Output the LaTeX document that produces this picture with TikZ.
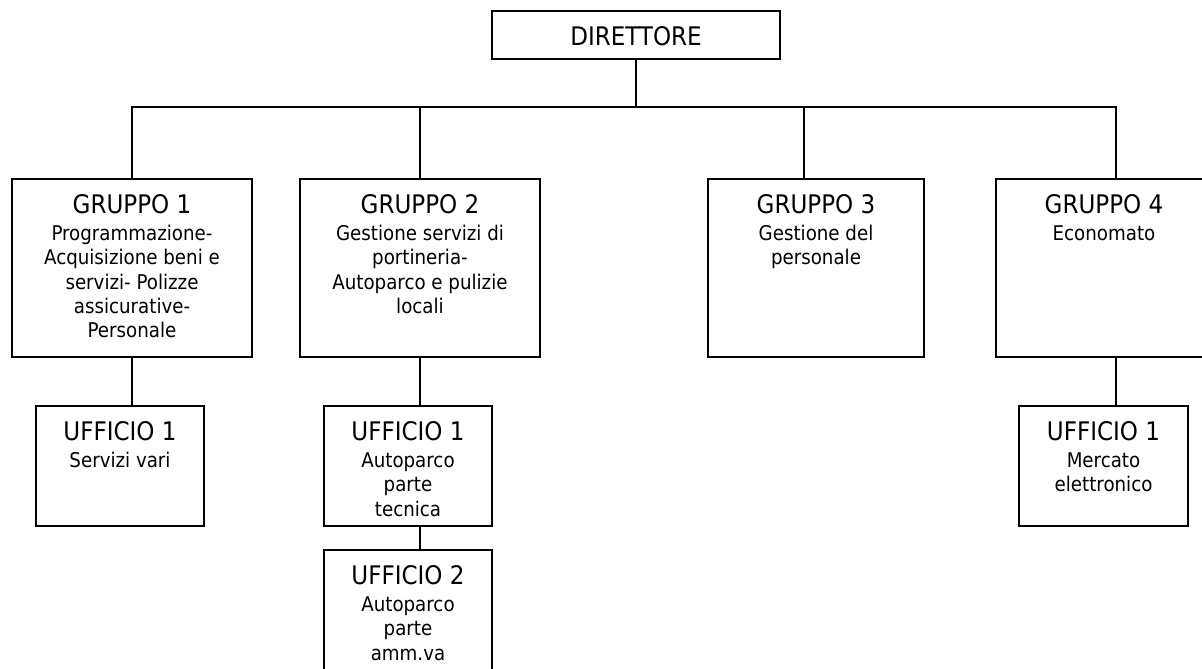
\documentclass[tikz,border=0pt]{standalone}
\usepackage{fontspec}
\setmainfont{DejaVu Sans Condensed}
\usetikzlibrary{calc}
\newcommand\boxtitle[1]{{\fontsize{19.2}{18.4}\selectfont #1}}
\begin{document}
\begin{tikzpicture}[x=0.75pt,y=-0.75pt,
  unitbox/.style={draw, line width=1.2pt, rectangle, inner sep=0pt, outer sep=0pt},
  groupbox/.style={unitbox, minimum width=180pt, minimum height=133.5pt},
  narrowbox/.style={unitbox, minimum width=162pt, minimum height=133.5pt},
  officebox/.style={unitbox, minimum width=126pt, minimum height=90pt},
  caption/.style={anchor=north, inner sep=0pt, align=center, font=\fontsize{15.2}{18.3}\selectfont},
  link/.style={line width=1.2pt}]
\useasboundingbox (0,0) rectangle (1202,668);
\clip (0,0) rectangle (1202,668);

% top of the chart
\node[unitbox, minimum width=216pt, minimum height=36pt] (dir) at (636,35) {};
\node[caption] (tdir) at ($(dir.north)+(0,15)$) {\boxtitle{DIRETTORE}};

% groups
\node[groupbox]  (g1) at (132,268) {};
\node[groupbox]  (g2) at (420,268) {};
\node[narrowbox] (g3) at (816,268) {};
\node[narrowbox] (g4) at (1104,268) {};

\node[caption] (tg1) at ($(g1.north)+(0,15)$)
  {\boxtitle{GRUPPO 1}\\[1.9pt]Programmazione-\\Acquisizione beni e\\servizi- Polizze\\assicurative-\\Personale};
\node[caption] (tg2) at ($(g2.north)+(0,15)$)
  {\boxtitle{GRUPPO 2}\\[1.9pt]Gestione servizi di\\portineria-\\Autoparco e pulizie\\locali};
\node[caption] (tg3) at ($(g3.north)+(0,15)$)
  {\boxtitle{GRUPPO 3}\\[1.9pt]Gestione del\\personale};
\node[caption] (tg4) at ($(g4.north)+(0,15)$)
  {\boxtitle{GRUPPO 4}\\[1.9pt]Economato};

% offices
\node[officebox] (u11) at (120,466) {};
\node[officebox] (u21) at (408,466) {};
\node[officebox] (u22) at (408,610) {};
\node[officebox, minimum width=126.75pt] (u41) at (1103.5,466) {};

\node[caption] (tu11) at ($(u11.north)+(0,15)$) {\boxtitle{UFFICIO 1}\\[1.9pt]Servizi vari};
\node[caption] (tu21) at ($(u21.north)+(0,15)$) {\boxtitle{UFFICIO 1}\\[1.9pt]Autoparco\\parte\\tecnica};
\node[caption] (tu22) at ($(u22.north)+(0,15)$) {\boxtitle{UFFICIO 2}\\[1.9pt]Autoparco\\parte\\amm.va};
\node[caption] (tu41) at ($(u41.north)+(0,15)$) {\boxtitle{UFFICIO 1}\\[1.9pt]Mercato\\elettronico};

% connectors
\coordinate (bus) at ($(dir.south)+(0,48)$);
\coordinate (s3) at ($(g3.north)+(-12,0)$);
\coordinate (s4) at ($(g4.north)+(12,0)$);
\draw[link] (dir.south) -- (bus);
\draw[link] (g1.north) |- (bus) -| (s4);
\draw[link] (g2.north) -- (g2.north |- bus);
\draw[link] (s3) -- (s3 |- bus);
\draw[link] (g1.south) -- (g1.south |- u11.north);
\draw[link] (g2.south) -- (g2.south |- u21.north);
\draw[link] (g2.south |- u21.south) -- (g2.south |- u22.north);
\draw[link] (s4 |- g4.south) -- (s4 |- u41.north);
\end{tikzpicture}
\end{document}
